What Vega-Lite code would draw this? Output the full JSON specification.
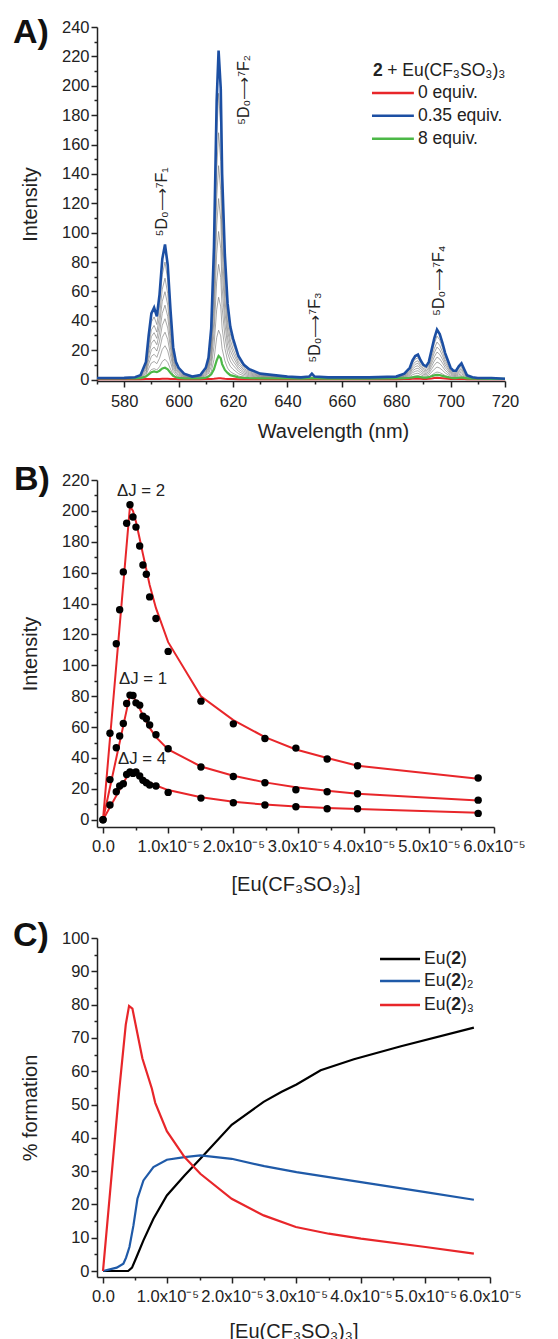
{
"$schema": "https://vega.github.io/schema/vega-lite/v6.json",
"padding": {"left": 12, "top": 16, "right": 0, "bottom": 0},
"background": "white",
"config": {
  "view": {"stroke": null},
  "font": "Liberation Sans",
  "axis": {"grid": false, "domainColor": "#222", "domainWidth": 1.5, "tickColor": "#222", "tickWidth": 1.5, "tickSize": 6, "tickCount": 200, "labelFont": "Liberation Sans", "labelFontSize": 16.5, "labelColor": "#222", "titleFont": "Liberation Sans", "titleFontSize": 20, "titleFontWeight": "normal", "titleColor": "#222", "labelOverlap": false, "labelFlush": false}
},
"datasets": {
  "spec": [
    {"x":570,"r":0.2,"b":1,"g":0.7},{"x":575,"r":0.2,"b":1,"g":0.7},{"x":580,"r":0.2,"b":1.1,"g":0.7},{"x":584,"r":0.2,"b":1.5,"g":0.8},{"x":586,"r":0.2,"b":3,"g":1},{"x":588,"r":0.3,"b":12,"g":2},{"x":589,"r":0.3,"b":30,"g":3.5},{"x":590,"r":0.4,"b":45,"g":5},{"x":591,"r":0.4,"b":49,"g":5.5},{"x":592,"r":0.4,"b":43,"g":5},{"x":593,"r":0.4,"b":58,"g":6},{"x":594,"r":0.5,"b":82,"g":7.5},{"x":595,"r":0.5,"b":92,"g":8},{"x":596,"r":0.5,"b":78,"g":7},{"x":597,"r":0.4,"b":48,"g":4.5},{"x":598,"r":0.3,"b":22,"g":2.5},{"x":599,"r":0.3,"b":12,"g":1.5},{"x":600,"r":0.2,"b":8,"g":1.1},{"x":602,"r":0.2,"b":4,"g":0.8},{"x":605,"r":0.2,"b":2,"g":0.7},{"x":608,"r":0.2,"b":3,"g":0.8},{"x":610,"r":0.3,"b":8,"g":1.2},{"x":611,"r":0.3,"b":15,"g":2},{"x":612,"r":0.4,"b":35,"g":3.5},{"x":613,"r":0.5,"b":90,"g":7},{"x":614,"r":0.7,"b":190,"g":13},{"x":614.7,"r":0.8,"b":224,"g":16},{"x":615.5,"r":0.8,"b":198,"g":14.5},{"x":616,"r":0.7,"b":140,"g":10.5},{"x":617,"r":0.5,"b":85,"g":6.5},{"x":618,"r":0.4,"b":52,"g":4.5},{"x":619,"r":0.3,"b":36,"g":3},{"x":620,"r":0.3,"b":28,"g":2.5},{"x":622,"r":0.2,"b":16,"g":1.5},{"x":624,"r":0.2,"b":10,"g":1.1},{"x":626,"r":0.2,"b":7,"g":0.9},{"x":630,"r":0.2,"b":4,"g":0.8},{"x":635,"r":0.2,"b":3,"g":0.7},{"x":640,"r":0.2,"b":2,"g":0.7},{"x":645,"r":0.2,"b":1.5,"g":0.6},{"x":648,"r":0.2,"b":2,"g":0.7},{"x":649,"r":0.3,"b":4,"g":0.9},{"x":650,"r":0.2,"b":2,"g":0.7},{"x":655,"r":0.2,"b":1.5,"g":0.6},{"x":660,"r":0.2,"b":1.5,"g":0.6},{"x":670,"r":0.2,"b":1.5,"g":0.6},{"x":680,"r":0.2,"b":2,"g":0.7},{"x":683,"r":0.3,"b":4,"g":0.9},{"x":685,"r":0.4,"b":8,"g":1.2},{"x":686,"r":0.5,"b":13,"g":1.5},{"x":687,"r":0.6,"b":16,"g":1.8},{"x":688,"r":0.6,"b":17,"g":2},{"x":689,"r":0.5,"b":13,"g":1.6},{"x":690,"r":0.4,"b":10,"g":1.3},{"x":691,"r":0.4,"b":9,"g":1.3},{"x":692,"r":0.5,"b":12,"g":1.6},{"x":693,"r":0.7,"b":20,"g":2.2},{"x":694,"r":1,"b":28,"g":2.8},{"x":695,"r":1.2,"b":34,"g":3.2},{"x":696,"r":1.1,"b":31,"g":3},{"x":697,"r":0.9,"b":25,"g":2.5},{"x":698,"r":0.7,"b":18,"g":2},{"x":699,"r":0.5,"b":13,"g":1.6},{"x":700,"r":0.4,"b":8,"g":1.2},{"x":701,"r":0.3,"b":6,"g":1},{"x":702,"r":0.3,"b":6,"g":1},{"x":703,"r":0.4,"b":9,"g":1.2},{"x":704,"r":0.4,"b":11,"g":1.4},{"x":705,"r":0.3,"b":7,"g":1.1},{"x":706,"r":0.2,"b":3,"g":0.8},{"x":708,"r":0.2,"b":1.5,"g":0.6},{"x":710,"r":0.2,"b":1,"g":0.6},{"x":715,"r":0.2,"b":1,"g":0.5},{"x":720,"r":0.2,"b":0.5,"g":0.5}
  ],
  "grays": [
    {"x":570,"g1":1,"g2":1,"g3":1,"g4":1,"g5":1,"g6":1,"g7":1,"g8":1},
    {"x":584,"g1":1,"g2":1,"g3":1,"g4":1,"g5":1,"g6":1.1,"g7":1.2,"g8":1.3},
    {"x":586,"g1":1,"g2":1,"g3":1.1,"g4":1.4,"g5":1.7,"g6":2,"g7":2.3,"g8":2.6},
    {"x":588,"g1":1.8,"g2":3,"g3":4.2,"g4":5.4,"g5":6.6,"g6":7.8,"g7":9,"g8":10.4},
    {"x":589,"g1":4.5,"g2":7.5,"g3":10.5,"g4":13.5,"g5":16.5,"g6":19.5,"g7":22.5,"g8":26.1},
    {"x":590,"g1":6.8,"g2":11.3,"g3":15.8,"g4":20.3,"g5":24.8,"g6":29.3,"g7":33.8,"g8":39.2},
    {"x":591,"g1":7.4,"g2":12.3,"g3":17.2,"g4":22.1,"g5":27,"g6":31.9,"g7":36.8,"g8":42.6},
    {"x":592,"g1":6.5,"g2":10.8,"g3":15.1,"g4":19.4,"g5":23.7,"g6":28,"g7":32.3,"g8":37.4},
    {"x":593,"g1":8.7,"g2":14.5,"g3":20.3,"g4":26.1,"g5":31.9,"g6":37.7,"g7":43.5,"g8":50.5},
    {"x":594,"g1":12.3,"g2":20.5,"g3":28.7,"g4":36.9,"g5":45.1,"g6":53.3,"g7":61.5,"g8":71.3},
    {"x":595,"g1":13.8,"g2":23,"g3":32.2,"g4":41.4,"g5":50.6,"g6":59.8,"g7":69,"g8":80},
    {"x":596,"g1":11.7,"g2":19.5,"g3":27.3,"g4":35.1,"g5":42.9,"g6":50.7,"g7":58.5,"g8":67.9},
    {"x":597,"g1":7.2,"g2":12,"g3":16.8,"g4":21.6,"g5":26.4,"g6":31.2,"g7":36,"g8":41.8},
    {"x":598,"g1":3.3,"g2":5.5,"g3":7.7,"g4":9.9,"g5":12.1,"g6":14.3,"g7":16.5,"g8":19.1},
    {"x":599,"g1":1.8,"g2":3,"g3":4.2,"g4":5.4,"g5":6.6,"g6":7.8,"g7":9,"g8":10.4},
    {"x":600,"g1":1.2,"g2":2,"g3":2.8,"g4":3.6,"g5":4.4,"g6":5.2,"g7":6,"g8":7},
    {"x":602,"g1":1,"g2":1,"g3":1.4,"g4":1.8,"g5":2.2,"g6":2.6,"g7":3,"g8":3.5},
    {"x":605,"g1":1,"g2":1,"g3":1,"g4":1,"g5":1.1,"g6":1.3,"g7":1.5,"g8":1.7},
    {"x":608,"g1":1,"g2":1,"g3":1.1,"g4":1.4,"g5":1.7,"g6":2,"g7":2.3,"g8":2.6},
    {"x":610,"g1":1.2,"g2":2,"g3":2.8,"g4":3.6,"g5":4.4,"g6":5.2,"g7":6,"g8":7},
    {"x":611,"g1":2.3,"g2":3.8,"g3":5.3,"g4":6.8,"g5":8.3,"g6":9.8,"g7":11.3,"g8":13.1},
    {"x":612,"g1":5.3,"g2":8.8,"g3":12.3,"g4":15.8,"g5":19.3,"g6":22.8,"g7":26.3,"g8":30.5},
    {"x":613,"g1":13.5,"g2":22.5,"g3":31.5,"g4":40.5,"g5":49.5,"g6":58.5,"g7":67.5,"g8":78.3},
    {"x":614,"g1":28.5,"g2":47.5,"g3":66.5,"g4":85.5,"g5":104.5,"g6":123.5,"g7":142.5,"g8":165.3},
    {"x":614.7,"g1":33.6,"g2":56,"g3":78.4,"g4":100.8,"g5":123.2,"g6":145.6,"g7":168,"g8":194.9},
    {"x":615.5,"g1":29.7,"g2":49.5,"g3":69.3,"g4":89.1,"g5":108.9,"g6":128.7,"g7":148.5,"g8":172.3},
    {"x":616,"g1":21,"g2":35,"g3":49,"g4":63,"g5":77,"g6":91,"g7":105,"g8":121.8},
    {"x":617,"g1":12.8,"g2":21.3,"g3":29.8,"g4":38.3,"g5":46.8,"g6":55.3,"g7":63.8,"g8":74},
    {"x":618,"g1":7.8,"g2":13,"g3":18.2,"g4":23.4,"g5":28.6,"g6":33.8,"g7":39,"g8":45.2},
    {"x":619,"g1":5.4,"g2":9,"g3":12.6,"g4":16.2,"g5":19.8,"g6":23.4,"g7":27,"g8":31.3},
    {"x":620,"g1":4.2,"g2":7,"g3":9.8,"g4":12.6,"g5":15.4,"g6":18.2,"g7":21,"g8":24.4},
    {"x":622,"g1":2.4,"g2":4,"g3":5.6,"g4":7.2,"g5":8.8,"g6":10.4,"g7":12,"g8":13.9},
    {"x":624,"g1":1.5,"g2":2.5,"g3":3.5,"g4":4.5,"g5":5.5,"g6":6.5,"g7":7.5,"g8":8.7},
    {"x":626,"g1":1.1,"g2":1.8,"g3":2.5,"g4":3.2,"g5":3.9,"g6":4.6,"g7":5.3,"g8":6.1},
    {"x":630,"g1":1,"g2":1,"g3":1.4,"g4":1.8,"g5":2.2,"g6":2.6,"g7":3,"g8":3.5},
    {"x":640,"g1":1,"g2":1,"g3":1,"g4":1,"g5":1.1,"g6":1.3,"g7":1.5,"g8":1.7},
    {"x":680,"g1":1,"g2":1,"g3":1,"g4":1,"g5":1.1,"g6":1.3,"g7":1.5,"g8":1.7},
    {"x":683,"g1":1,"g2":1,"g3":1.4,"g4":1.8,"g5":2.2,"g6":2.6,"g7":3,"g8":3.5},
    {"x":685,"g1":1.2,"g2":2,"g3":2.8,"g4":3.6,"g5":4.4,"g6":5.2,"g7":6,"g8":7},
    {"x":686,"g1":2,"g2":3.3,"g3":4.6,"g4":5.9,"g5":7.2,"g6":8.5,"g7":9.8,"g8":11.3},
    {"x":687,"g1":2.4,"g2":4,"g3":5.6,"g4":7.2,"g5":8.8,"g6":10.4,"g7":12,"g8":13.9},
    {"x":688,"g1":2.6,"g2":4.3,"g3":6,"g4":7.7,"g5":9.4,"g6":11.1,"g7":12.8,"g8":14.8},
    {"x":689,"g1":2,"g2":3.3,"g3":4.6,"g4":5.9,"g5":7.2,"g6":8.5,"g7":9.8,"g8":11.3},
    {"x":690,"g1":1.5,"g2":2.5,"g3":3.5,"g4":4.5,"g5":5.5,"g6":6.5,"g7":7.5,"g8":8.7},
    {"x":691,"g1":1.4,"g2":2.3,"g3":3.2,"g4":4.1,"g5":5,"g6":5.9,"g7":6.8,"g8":7.8},
    {"x":692,"g1":1.8,"g2":3,"g3":4.2,"g4":5.4,"g5":6.6,"g6":7.8,"g7":9,"g8":10.4},
    {"x":693,"g1":3,"g2":5,"g3":7,"g4":9,"g5":11,"g6":13,"g7":15,"g8":17.4},
    {"x":694,"g1":4.2,"g2":7,"g3":9.8,"g4":12.6,"g5":15.4,"g6":18.2,"g7":21,"g8":24.4},
    {"x":695,"g1":5.1,"g2":8.5,"g3":11.9,"g4":15.3,"g5":18.7,"g6":22.1,"g7":25.5,"g8":29.6},
    {"x":696,"g1":4.7,"g2":7.8,"g3":10.9,"g4":14,"g5":17.1,"g6":20.2,"g7":23.3,"g8":27},
    {"x":697,"g1":3.8,"g2":6.3,"g3":8.8,"g4":11.3,"g5":13.8,"g6":16.3,"g7":18.8,"g8":21.8},
    {"x":698,"g1":2.7,"g2":4.5,"g3":6.3,"g4":8.1,"g5":9.9,"g6":11.7,"g7":13.5,"g8":15.7},
    {"x":699,"g1":2,"g2":3.3,"g3":4.6,"g4":5.9,"g5":7.2,"g6":8.5,"g7":9.8,"g8":11.3},
    {"x":700,"g1":1.2,"g2":2,"g3":2.8,"g4":3.6,"g5":4.4,"g6":5.2,"g7":6,"g8":7},
    {"x":701,"g1":1,"g2":1.5,"g3":2.1,"g4":2.7,"g5":3.3,"g6":3.9,"g7":4.5,"g8":5.2},
    {"x":702,"g1":1,"g2":1.5,"g3":2.1,"g4":2.7,"g5":3.3,"g6":3.9,"g7":4.5,"g8":5.2},
    {"x":703,"g1":1.4,"g2":2.3,"g3":3.2,"g4":4.1,"g5":5,"g6":5.9,"g7":6.8,"g8":7.8},
    {"x":704,"g1":1.7,"g2":2.8,"g3":3.9,"g4":5,"g5":6.1,"g6":7.2,"g7":8.3,"g8":9.6},
    {"x":705,"g1":1.1,"g2":1.8,"g3":2.5,"g4":3.2,"g5":3.9,"g6":4.6,"g7":5.3,"g8":6.1},
    {"x":706,"g1":1,"g2":1,"g3":1.1,"g4":1.4,"g5":1.7,"g6":2,"g7":2.3,"g8":2.6},
    {"x":708,"g1":1,"g2":1,"g3":1,"g4":1,"g5":1,"g6":1.1,"g7":1.2,"g8":1.3},
    {"x":720,"g1":0.6,"g2":0.6,"g3":0.6,"g4":0.6,"g5":0.6,"g6":0.6,"g7":0.6,"g8":0.6}
  ],
  "pts": [
    {"c":0,"I":0,"s":"2"},{"c":0.107e-5,"I":56,"s":"2"},{"c":0.204e-5,"I":114,"s":"2"},{"c":0.256e-5,"I":136,"s":"2"},{"c":0.312e-5,"I":160.5,"s":"2"},{"c":0.363e-5,"I":192,"s":"2"},{"c":0.414e-5,"I":204,"s":"2"},{"c":0.46e-5,"I":196,"s":"2"},{"c":0.506e-5,"I":189.5,"s":"2"},{"c":0.563e-5,"I":177.3,"s":"2"},{"c":0.613e-5,"I":165,"s":"2"},{"c":0.665e-5,"I":159,"s":"2"},{"c":0.716e-5,"I":144.3,"s":"2"},{"c":0.813e-5,"I":130.3,"s":"2"},{"c":1.0e-5,"I":109,"s":"2"},{"c":1.503e-5,"I":76.8,"s":"2"},{"c":2.0e-5,"I":62.1,"s":"2"},{"c":2.485e-5,"I":52.6,"s":"2"},{"c":2.96e-5,"I":46.4,"s":"2"},{"c":3.44e-5,"I":39.3,"s":"2"},{"c":3.906e-5,"I":35,"s":"2"},{"c":5.757e-5,"I":27,"s":"2"},
    {"c":0,"I":0,"s":"1"},{"c":0.107e-5,"I":26,"s":"1"},{"c":0.204e-5,"I":46.6,"s":"1"},{"c":0.256e-5,"I":54.2,"s":"1"},{"c":0.312e-5,"I":62.3,"s":"1"},{"c":0.363e-5,"I":75.3,"s":"1"},{"c":0.414e-5,"I":80.7,"s":"1"},{"c":0.46e-5,"I":80.4,"s":"1"},{"c":0.506e-5,"I":75.7,"s":"1"},{"c":0.563e-5,"I":74.2,"s":"1"},{"c":0.613e-5,"I":67.1,"s":"1"},{"c":0.665e-5,"I":65.4,"s":"1"},{"c":0.716e-5,"I":61.3,"s":"1"},{"c":0.813e-5,"I":55,"s":"1"},{"c":1.0e-5,"I":46,"s":"1"},{"c":1.503e-5,"I":34.1,"s":"1"},{"c":2.0e-5,"I":28,"s":"1"},{"c":2.485e-5,"I":24,"s":"1"},{"c":2.96e-5,"I":19.4,"s":"1"},{"c":3.44e-5,"I":18.1,"s":"1"},{"c":3.906e-5,"I":16.8,"s":"1"},{"c":5.757e-5,"I":12.7,"s":"1"},
    {"c":0.107e-5,"I":9.5,"s":"4"},{"c":0.204e-5,"I":18.1,"s":"4"},{"c":0.256e-5,"I":21.8,"s":"4"},{"c":0.312e-5,"I":23.3,"s":"4"},{"c":0.363e-5,"I":29.3,"s":"4"},{"c":0.414e-5,"I":31,"s":"4"},{"c":0.46e-5,"I":30,"s":"4"},{"c":0.506e-5,"I":31,"s":"4"},{"c":0.563e-5,"I":28.3,"s":"4"},{"c":0.613e-5,"I":25.5,"s":"4"},{"c":0.665e-5,"I":24,"s":"4"},{"c":0.716e-5,"I":22.5,"s":"4"},{"c":0.813e-5,"I":21.8,"s":"4"},{"c":1.0e-5,"I":17.7,"s":"4"},{"c":1.503e-5,"I":14,"s":"4"},{"c":2.0e-5,"I":11,"s":"4"},{"c":2.485e-5,"I":9.5,"s":"4"},{"c":2.96e-5,"I":8.4,"s":"4"},{"c":3.44e-5,"I":7.1,"s":"4"},{"c":3.906e-5,"I":7.1,"s":"4"},{"c":5.757e-5,"I":4.1,"s":"4"}
  ],
  "fits": [
    {"c":0,"I":0,"s":"2"},{"c":0.414e-5,"I":203,"s":"2"},{"c":0.46e-5,"I":200,"s":"2"},{"c":0.506e-5,"I":193,"s":"2"},{"c":0.563e-5,"I":182,"s":"2"},{"c":0.613e-5,"I":172,"s":"2"},{"c":0.665e-5,"I":162,"s":"2"},{"c":0.716e-5,"I":152,"s":"2"},{"c":0.813e-5,"I":137,"s":"2"},{"c":1.0e-5,"I":115,"s":"2"},{"c":1.503e-5,"I":80,"s":"2"},{"c":2.0e-5,"I":64.5,"s":"2"},{"c":2.485e-5,"I":53.5,"s":"2"},{"c":2.96e-5,"I":45.5,"s":"2"},{"c":3.44e-5,"I":40,"s":"2"},{"c":3.906e-5,"I":35,"s":"2"},{"c":5.757e-5,"I":26.5,"s":"2"},
    {"c":0,"I":0,"s":"1"},{"c":0.414e-5,"I":81,"s":"1"},{"c":0.46e-5,"I":80,"s":"1"},{"c":0.506e-5,"I":76.5,"s":"1"},{"c":0.563e-5,"I":72,"s":"1"},{"c":0.613e-5,"I":67.5,"s":"1"},{"c":0.665e-5,"I":63.5,"s":"1"},{"c":0.716e-5,"I":59.5,"s":"1"},{"c":0.813e-5,"I":53.5,"s":"1"},{"c":1.0e-5,"I":45.5,"s":"1"},{"c":1.503e-5,"I":34.5,"s":"1"},{"c":2.0e-5,"I":28.5,"s":"1"},{"c":2.485e-5,"I":24.2,"s":"1"},{"c":2.96e-5,"I":21,"s":"1"},{"c":3.44e-5,"I":18.7,"s":"1"},{"c":3.906e-5,"I":16.8,"s":"1"},{"c":5.757e-5,"I":12.5,"s":"1"},
    {"c":0,"I":0,"s":"4"},{"c":0.414e-5,"I":31.5,"s":"4"},{"c":0.46e-5,"I":31,"s":"4"},{"c":0.506e-5,"I":30,"s":"4"},{"c":0.563e-5,"I":28.5,"s":"4"},{"c":0.613e-5,"I":27,"s":"4"},{"c":0.665e-5,"I":25.5,"s":"4"},{"c":0.716e-5,"I":24.2,"s":"4"},{"c":0.813e-5,"I":22.2,"s":"4"},{"c":1.0e-5,"I":19.2,"s":"4"},{"c":1.503e-5,"I":14.5,"s":"4"},{"c":2.0e-5,"I":11.6,"s":"4"},{"c":2.485e-5,"I":9.8,"s":"4"},{"c":2.96e-5,"I":8.6,"s":"4"},{"c":3.44e-5,"I":7.6,"s":"4"},{"c":3.906e-5,"I":6.9,"s":"4"},{"c":5.757e-5,"I":4.6,"s":"4"}
  ],
  "pc": [
    {"c":0,"p":0,"s":"Eu(2)"},{"c":0.39e-5,"p":0,"s":"Eu(2)"},{"c":0.45e-5,"p":1,"s":"Eu(2)"},{"c":0.52e-5,"p":4.2,"s":"Eu(2)"},{"c":0.627e-5,"p":9.2,"s":"Eu(2)"},{"c":0.782e-5,"p":15.7,"s":"Eu(2)"},{"c":0.99e-5,"p":22.7,"s":"Eu(2)"},{"c":1.264e-5,"p":28.7,"s":"Eu(2)"},{"c":1.509e-5,"p":33.7,"s":"Eu(2)"},{"c":1.995e-5,"p":43.9,"s":"Eu(2)"},{"c":2.49e-5,"p":50.8,"s":"Eu(2)"},{"c":2.77e-5,"p":53.8,"s":"Eu(2)"},{"c":3.0e-5,"p":56,"s":"Eu(2)"},{"c":3.375e-5,"p":60.3,"s":"Eu(2)"},{"c":3.89e-5,"p":63.6,"s":"Eu(2)"},{"c":4.62e-5,"p":67.5,"s":"Eu(2)"},{"c":5.75e-5,"p":73.1,"s":"Eu(2)"},
    {"c":0,"p":0,"s":"Eu(2)2"},{"c":0.213e-5,"p":1,"s":"Eu(2)2"},{"c":0.316e-5,"p":2.2,"s":"Eu(2)2"},{"c":0.358e-5,"p":4,"s":"Eu(2)2"},{"c":0.41e-5,"p":7.2,"s":"Eu(2)2"},{"c":0.472e-5,"p":13.7,"s":"Eu(2)2"},{"c":0.534e-5,"p":21.7,"s":"Eu(2)2"},{"c":0.627e-5,"p":27.2,"s":"Eu(2)2"},{"c":0.782e-5,"p":31.2,"s":"Eu(2)2"},{"c":0.99e-5,"p":33.4,"s":"Eu(2)2"},{"c":1.264e-5,"p":34.2,"s":"Eu(2)2"},{"c":1.509e-5,"p":34.7,"s":"Eu(2)2"},{"c":1.995e-5,"p":33.7,"s":"Eu(2)2"},{"c":2.5e-5,"p":31.5,"s":"Eu(2)2"},{"c":3.0e-5,"p":29.7,"s":"Eu(2)2"},{"c":3.5e-5,"p":28.2,"s":"Eu(2)2"},{"c":4.0e-5,"p":26.7,"s":"Eu(2)2"},{"c":5.0e-5,"p":23.7,"s":"Eu(2)2"},{"c":5.75e-5,"p":21.4,"s":"Eu(2)2"},
    {"c":0,"p":0,"s":"Eu(2)3"},{"c":0.249e-5,"p":53.8,"s":"Eu(2)3"},{"c":0.353e-5,"p":74,"s":"Eu(2)3"},{"c":0.404e-5,"p":79.6,"s":"Eu(2)3"},{"c":0.456e-5,"p":78.8,"s":"Eu(2)3"},{"c":0.611e-5,"p":63.8,"s":"Eu(2)3"},{"c":0.757e-5,"p":54.8,"s":"Eu(2)3"},{"c":0.81e-5,"p":50.5,"s":"Eu(2)3"},{"c":0.99e-5,"p":42,"s":"Eu(2)3"},{"c":1.264e-5,"p":34.2,"s":"Eu(2)3"},{"c":1.509e-5,"p":29.2,"s":"Eu(2)3"},{"c":1.995e-5,"p":21.7,"s":"Eu(2)3"},{"c":2.49e-5,"p":16.7,"s":"Eu(2)3"},{"c":2.99e-5,"p":13.2,"s":"Eu(2)3"},{"c":3.5e-5,"p":11.2,"s":"Eu(2)3"},{"c":4.0e-5,"p":9.7,"s":"Eu(2)3"},{"c":5.0e-5,"p":7.2,"s":"Eu(2)3"},{"c":5.75e-5,"p":5.2,"s":"Eu(2)3"}
  ]
},
"spacing": 22,
"vconcat": [
  {
    "width": 408, "height": 354,
    "resolve": {"axis": {"x": "independent", "y": "independent"}},
    "layer": [
      {"data": {"name": "spec"}, "mark": {"type": "line", "opacity": 0},
       "encoding": {
         "x": {"field": "x", "type": "quantitative", "scale": {"domain": [570, 720], "nice": false, "zero": false},
               "axis": {"orient": "bottom", "values": [570,590,610,630,650,670,690,710], "tickCount": 200, "labels": false, "domain": false, "tickSize": 3, "title": null}},
         "y": {"field": "r", "type": "quantitative", "scale": {"domain": [-1, 240], "nice": false, "zero": false},
               "axis": {"orient": "left", "values": [10,30,50,70,90,110,130,150,170,190,210,230], "tickCount": 200, "labels": false, "domain": false, "tickSize": 3, "title": null}}
       }},
      {"layer": [
      {"data": {"name": "grays"}, "transform": [{"fold": ["g1","g2","g3","g4","g5","g6","g7","g8"], "as": ["k","v"]}],
       "mark": {"type": "line", "stroke": "#7f7f7f", "strokeWidth": 0.8, "opacity": 0.85},
       "encoding": {
         "x": {"field": "x", "type": "quantitative", "scale": {"domain": [570, 720], "nice": false, "zero": false},
               "axis": {"orient": "bottom", "title": "Wavelength (nm)", "values": [580,600,620,640,660,680,700,720], "format": "d", "tickCount": 200, "labelOverlap": false, "labelFlush": false, "labelPadding": 6.5, "titlePadding": 11, "titleX": 236}},
         "y": {"field": "v", "type": "quantitative", "scale": {"domain": [-1, 240], "nice": false, "zero": false},
               "axis": {"orient": "left", "title": "Intensity", "values": [0,20,40,60,80,100,120,140,160,180,200,220,240], "format": "d", "tickCount": 200, "labelOverlap": false, "labelPadding": 2, "titlePadding": 21}},
         "detail": {"field": "k", "type": "nominal"}
       }},
      {"data": {"name": "spec"}, "mark": {"type": "line", "stroke": "#e8262a", "strokeWidth": 2}, "encoding": {"x": {"field": "x", "type": "quantitative"}, "y": {"field": "r", "type": "quantitative"}}},
      {"data": {"name": "spec"}, "mark": {"type": "line", "stroke": "#4cb847", "strokeWidth": 2.2}, "encoding": {"x": {"field": "x", "type": "quantitative"}, "y": {"field": "g", "type": "quantitative"}}},
      {"data": {"name": "spec"}, "mark": {"type": "line", "stroke": "#1c4fa3", "strokeWidth": 2.6}, "encoding": {"x": {"field": "x", "type": "quantitative"}, "y": {"field": "b", "type": "quantitative"}}},
      {"data": {"values": [{}]}, "mark": {"type": "text", "text": "⁵D₀⟶⁷F₁", "angle": 270, "fontSize": 16, "align": "center", "baseline": "middle", "color": "#222"}, "encoding": {"x": {"datum": 593.9}, "y": {"datum": 121}}},
      {"data": {"values": [{}]}, "mark": {"type": "text", "text": "⁵D₀⟶⁷F₂", "angle": 270, "fontSize": 16, "align": "center", "baseline": "middle", "color": "#222"}, "encoding": {"x": {"datum": 624}, "y": {"datum": 197.2}}},
      {"data": {"values": [{}]}, "mark": {"type": "text", "text": "⁵D₀⟶⁷F₃", "angle": 270, "fontSize": 16, "align": "center", "baseline": "middle", "color": "#222"}, "encoding": {"x": {"datum": 650.2}, "y": {"datum": 35.4}}},
      {"data": {"values": [{}]}, "mark": {"type": "text", "text": "⁵D₀⟶⁷F₄", "angle": 270, "fontSize": 16, "align": "center", "baseline": "middle", "color": "#222"}, "encoding": {"x": {"datum": 695.7}, "y": {"datum": 67.3}}},
      {"data": {"values": [{}]}, "mark": {"type": "rule", "stroke": "#e8262a", "strokeWidth": 2.5}, "encoding": {"x": {"datum": 671.1}, "x2": {"datum": 686.5}, "y": {"datum": 195.1}}},
      {"data": {"values": [{}]}, "mark": {"type": "rule", "stroke": "#1c4fa3", "strokeWidth": 2.5}, "encoding": {"x": {"datum": 671.1}, "x2": {"datum": 686.5}, "y": {"datum": 179.5}}},
      {"data": {"values": [{}]}, "mark": {"type": "rule", "stroke": "#4cb847", "strokeWidth": 2.5}, "encoding": {"x": {"datum": 671.1}, "x2": {"datum": 686.5}, "y": {"datum": 163.9}}},
      {"data": {"values": [{}]}, "mark": {"type": "text", "text": "0 equiv.", "fontSize": 17.5, "align": "left", "baseline": "middle", "color": "#222"}, "encoding": {"x": {"datum": 688}, "y": {"datum": 195.1}}},
      {"data": {"values": [{}]}, "mark": {"type": "text", "text": "0.35 equiv.", "fontSize": 17.5, "align": "left", "baseline": "middle", "color": "#222"}, "encoding": {"x": {"datum": 688}, "y": {"datum": 179.5}}},
      {"data": {"values": [{}]}, "mark": {"type": "text", "text": "8 equiv.", "fontSize": 17.5, "align": "left", "baseline": "middle", "color": "#222"}, "encoding": {"x": {"datum": 688}, "y": {"datum": 163.9}}},
      {"data": {"values": [{}]}, "mark": {"type": "text", "text": "2", "fontSize": 17.5, "fontWeight": "bold", "align": "left", "baseline": "middle", "color": "#222"}, "encoding": {"x": {"datum": 671.5}, "y": {"datum": 210.1}}},
      {"data": {"values": [{}]}, "mark": {"type": "text", "text": "+ Eu(CF₃SO₃)₃", "fontSize": 17.5, "align": "left", "baseline": "middle", "color": "#222"}, "encoding": {"x": {"datum": 676.7}, "y": {"datum": 210.1}}},
      {"data": {"values": [{}]}, "mark": {"type": "text", "text": "A)", "fontSize": 34, "fontWeight": "bold", "font": "Liberation Sans Narrow, Liberation Sans", "align": "left", "baseline": "middle", "color": "#111"}, "encoding": {"x": {"datum": 539.1}, "y": {"datum": 235.6}}}
      ]}
    ]
  },
  {
    "spacing": 24,
    "vconcat": [
      {
        "width": 397, "height": 347,
        "resolve": {"axis": {"x": "independent", "y": "independent"}},
        "layer": [
          {"data": {"name": "fits"}, "mark": {"type": "line", "opacity": 0},
           "encoding": {
             "x": {"field": "c", "type": "quantitative", "scale": {"domain": [-0.092e-5, 6.0e-5], "nice": false, "zero": false},
                   "axis": {"orient": "bottom", "values": [0.5e-5, 1.5e-5, 2.5e-5, 3.5e-5, 4.5e-5, 5.5e-5], "tickCount": 200, "labels": false, "domain": false, "tickSize": 3, "title": null}},
             "y": {"field": "I", "type": "quantitative", "scale": {"domain": [-4.7, 220], "nice": false, "zero": false},
                   "axis": {"orient": "left", "values": [10,30,50,70,90,110,130,150,170,190,210], "tickCount": 200, "labels": false, "domain": false, "tickSize": 3, "title": null}},
             "detail": {"field": "s", "type": "nominal"}
           }},
          {"layer": [
          {"data": {"name": "fits"}, "mark": {"type": "line", "stroke": "#e8262a", "strokeWidth": 2},
           "encoding": {
             "x": {"field": "c", "type": "quantitative", "scale": {"domain": [-0.092e-5, 6.0e-5], "nice": false, "zero": false},
                   "axis": {"orient": "bottom", "title": "[Eu(CF₃SO₃)₃]", "values": [0, 1.0e-5, 2.0e-5, 3.0e-5, 4.0e-5, 5.0e-5, 6.0e-5], "tickCount": 200, "labelExpr": "datum.value == 0 ? '0.0' : format(datum.value*1e5, '.1f') + 'x10⁻⁵'", "labelOverlap": false, "labelFlush": false, "labelPadding": 5, "titlePadding": 19.5}},
             "y": {"field": "I", "type": "quantitative", "scale": {"domain": [-4.7, 220], "nice": false, "zero": false},
                   "axis": {"orient": "left", "title": "Intensity", "values": [0,20,40,60,80,100,120,140,160,180,200,220], "format": "d", "tickCount": 200, "labelOverlap": false, "labelPadding": 2, "titlePadding": 21}},
             "detail": {"field": "s", "type": "nominal"}
           }},
          {"data": {"name": "pts"}, "mark": {"type": "circle", "size": 55, "color": "#000", "opacity": 1}, "encoding": {"x": {"field": "c", "type": "quantitative"}, "y": {"field": "I", "type": "quantitative"}}},
          {"data": {"values": [{}]}, "mark": {"type": "text", "text": "ΔJ = 2", "fontSize": 16.8, "align": "center", "baseline": "middle", "color": "#222"}, "encoding": {"x": {"datum": 0.583e-5}, "y": {"datum": 213.1}}},
          {"data": {"values": [{}]}, "mark": {"type": "text", "text": "ΔJ = 1", "fontSize": 16.8, "align": "center", "baseline": "middle", "color": "#222"}, "encoding": {"x": {"datum": 0.614e-5}, "y": {"datum": 91.3}}},
          {"data": {"values": [{}]}, "mark": {"type": "text", "text": "ΔJ = 4", "fontSize": 16.8, "align": "center", "baseline": "middle", "color": "#222"}, "encoding": {"x": {"datum": 0.599e-5}, "y": {"datum": 39.5}}},
          {"data": {"values": [{}]}, "mark": {"type": "text", "text": "B)", "fontSize": 34, "fontWeight": "bold", "font": "Liberation Sans Narrow, Liberation Sans", "align": "left", "baseline": "middle", "color": "#111"}, "encoding": {"x": {"datum": -1.366e-5}, "y": {"datum": 219.7}}}
          ]}
        ]
      },
      {
        "width": 393, "height": 339,
        "resolve": {"axis": {"x": "independent", "y": "independent"}},
        "layer": [
          {"data": {"name": "pc"}, "mark": {"type": "line", "opacity": 0},
           "encoding": {
             "x": {"field": "c", "type": "quantitative", "scale": {"domain": [-0.093e-5, 6.0e-5], "nice": false, "zero": false},
                   "axis": {"orient": "bottom", "values": [0.5e-5, 1.5e-5, 2.5e-5, 3.5e-5, 4.5e-5, 5.5e-5], "tickCount": 200, "labels": false, "domain": false, "tickSize": 3, "title": null}},
             "y": {"field": "p", "type": "quantitative", "scale": {"domain": [-1.8, 100], "nice": false, "zero": false},
                   "axis": {"orient": "left", "values": [5,15,25,35,45,55,65,75,85,95], "tickCount": 200, "labels": false, "domain": false, "tickSize": 3, "title": null}},
             "detail": {"field": "s", "type": "nominal"}
           }},
          {"layer": [
          {"data": {"name": "pc"}, "mark": {"type": "line", "strokeWidth": 2.2},
           "encoding": {
             "x": {"field": "c", "type": "quantitative", "scale": {"domain": [-0.093e-5, 6.0e-5], "nice": false, "zero": false},
                   "axis": {"orient": "bottom", "title": "[Eu(CF₃SO₃)₃]", "values": [0, 1.0e-5, 2.0e-5, 3.0e-5, 4.0e-5, 5.0e-5, 6.0e-5], "tickCount": 200, "labelExpr": "datum.value == 0 ? '0.0' : format(datum.value*1e5, '.1f') + 'x10⁻⁵'", "labelOverlap": false, "labelFlush": false, "labelPadding": 5, "titlePadding": 16.5}},
             "y": {"field": "p", "type": "quantitative", "scale": {"domain": [-1.8, 100], "nice": false, "zero": false},
                   "axis": {"orient": "left", "title": "% formation", "values": [0,10,20,30,40,50,60,70,80,90,100], "format": "d", "tickCount": 200, "labelOverlap": false, "labelPadding": 2, "titlePadding": 21}},
             "color": {"field": "s", "type": "nominal", "scale": {"domain": ["Eu(2)", "Eu(2)2", "Eu(2)3"], "range": ["#000000", "#1f5aa8", "#e8262a"]}, "legend": null}
           }},
          {"data": {"values": [{}]}, "mark": {"type": "rule", "stroke": "#000000", "strokeWidth": 2.5}, "encoding": {"x": {"datum": 4.295e-5}, "x2": {"datum": 4.915e-5}, "y": {"datum": 93.7}}},
          {"data": {"values": [{}]}, "mark": {"type": "rule", "stroke": "#1f5aa8", "strokeWidth": 2.5}, "encoding": {"x": {"datum": 4.295e-5}, "x2": {"datum": 4.915e-5}, "y": {"datum": 87.1}}},
          {"data": {"values": [{}]}, "mark": {"type": "rule", "stroke": "#e8262a", "strokeWidth": 2.5}, "encoding": {"x": {"datum": 4.295e-5}, "x2": {"datum": 4.915e-5}, "y": {"datum": 79.9}}},
          {"data": {"values": [{}]}, "mark": {"type": "text", "text": "Eu(", "fontSize": 17.5, "align": "left", "baseline": "middle", "color": "#222"}, "encoding": {"x": {"datum": 4.977e-5}, "y": {"datum": 93.7}}},
          {"data": {"values": [{}]}, "mark": {"type": "text", "text": "Eu(", "fontSize": 17.5, "align": "left", "baseline": "middle", "color": "#222"}, "encoding": {"x": {"datum": 4.977e-5}, "y": {"datum": 87.1}}},
          {"data": {"values": [{}]}, "mark": {"type": "text", "text": "Eu(", "fontSize": 17.5, "align": "left", "baseline": "middle", "color": "#222"}, "encoding": {"x": {"datum": 4.977e-5}, "y": {"datum": 79.9}}},
          {"data": {"values": [{}]}, "mark": {"type": "text", "text": "2", "fontSize": 17.5, "fontWeight": "bold", "align": "left", "baseline": "middle", "color": "#222"}, "encoding": {"x": {"datum": 5.398e-5}, "y": {"datum": 93.7}}},
          {"data": {"values": [{}]}, "mark": {"type": "text", "text": "2", "fontSize": 17.5, "fontWeight": "bold", "align": "left", "baseline": "middle", "color": "#222"}, "encoding": {"x": {"datum": 5.398e-5}, "y": {"datum": 87.1}}},
          {"data": {"values": [{}]}, "mark": {"type": "text", "text": "2", "fontSize": 17.5, "fontWeight": "bold", "align": "left", "baseline": "middle", "color": "#222"}, "encoding": {"x": {"datum": 5.398e-5}, "y": {"datum": 79.9}}},
          {"data": {"values": [{}]}, "mark": {"type": "text", "text": ")", "fontSize": 17.5, "align": "left", "baseline": "middle", "color": "#222"}, "encoding": {"x": {"datum": 5.549e-5}, "y": {"datum": 93.7}}},
          {"data": {"values": [{}]}, "mark": {"type": "text", "text": ")₂", "fontSize": 17.5, "align": "left", "baseline": "middle", "color": "#222"}, "encoding": {"x": {"datum": 5.549e-5}, "y": {"datum": 87.1}}},
          {"data": {"values": [{}]}, "mark": {"type": "text", "text": ")₃", "fontSize": 17.5, "align": "left", "baseline": "middle", "color": "#222"}, "encoding": {"x": {"datum": 5.549e-5}, "y": {"datum": 79.9}}},
          {"data": {"values": [{}]}, "mark": {"type": "text", "text": "C)", "fontSize": 34, "fontWeight": "bold", "font": "Liberation Sans Narrow, Liberation Sans", "align": "left", "baseline": "middle", "color": "#111"}, "encoding": {"x": {"datum": -1.395e-5}, "y": {"datum": 100.75}}}
          ]}
        ]
      }
    ]
  }
]
}
